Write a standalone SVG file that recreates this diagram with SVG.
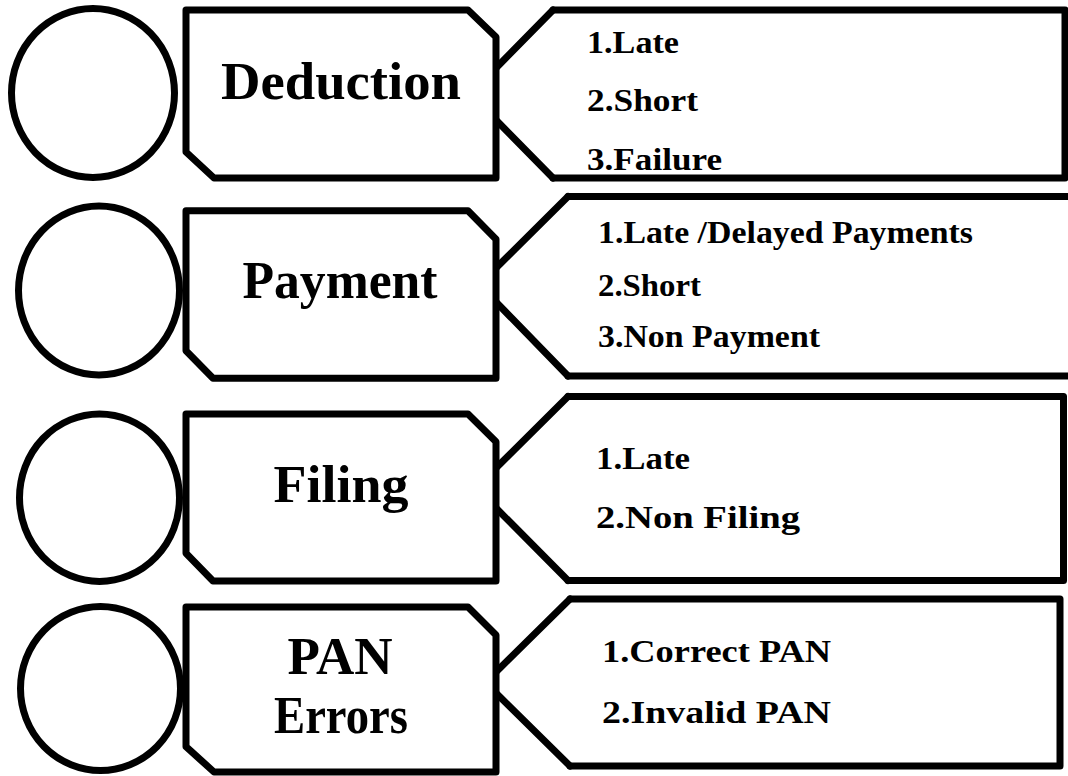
<svg xmlns="http://www.w3.org/2000/svg" width="1068" height="776" viewBox="0 0 1068 776">
<style>
.sh{fill:#fff;stroke:#000;stroke-width:7;stroke-linejoin:round;stroke-linecap:round}
.cn{fill:none;stroke:#000;stroke-width:7;stroke-linecap:round}
.lb{font-family:"Liberation Serif","Times New Roman",serif;font-weight:bold;font-size:52px;fill:#000;text-anchor:middle}
.it{font-family:"Liberation Serif","Times New Roman",serif;font-weight:bold;font-size:32.5px;fill:#000}
</style>
<rect width="1068" height="776" fill="#fff"/>
<g id="row1-items"><path class="sh" d="M553,10 H1065 V178 H553"/>
<text class="it" x="587" y="53" textLength="92" lengthAdjust="spacingAndGlyphs">1.Late</text>
<text class="it" x="587" y="111" textLength="111" lengthAdjust="spacingAndGlyphs">2.Short</text>
<text class="it" x="587" y="170" textLength="135" lengthAdjust="spacingAndGlyphs">3.Failure</text></g>
<g id="row2-items"><path class="sh" d="M568,196.5 H1075 V376 H568"/>
<text class="it" x="598" y="243" textLength="375" lengthAdjust="spacingAndGlyphs">1.Late /Delayed Payments</text>
<text class="it" x="598" y="296" textLength="103" lengthAdjust="spacingAndGlyphs">2.Short</text>
<text class="it" x="598" y="347" textLength="222" lengthAdjust="spacingAndGlyphs">3.Non Payment</text></g>
<g id="row3-items"><path class="sh" d="M568,396.5 H1063.5 V580.5 H568"/>
<text class="it" x="596" y="469" textLength="94" lengthAdjust="spacingAndGlyphs">1.Late</text>
<text class="it" x="596" y="528" textLength="204" lengthAdjust="spacingAndGlyphs">2.Non Filing</text></g>
<g id="row4-items"><path class="sh" d="M570,599 H1060 V766 H570"/>
<text class="it" x="602" y="662" textLength="229" lengthAdjust="spacingAndGlyphs">1.Correct PAN</text>
<text class="it" x="602" y="723" textLength="229" lengthAdjust="spacingAndGlyphs">2.Invalid PAN</text></g>
<g id="connectors">
<path class="cn" d="M496,68 L553,10 M496,120 L553,178"/>
<path class="cn" d="M496,268 L568,196.5 M496,302 L568,376"/>
<path class="cn" d="M496,468 L568,396.5 M496,508 L568,580.5"/>
<path class="cn" d="M496,672 L570,599 M496,693 L570,766"/>
</g>
<g id="circle1"><ellipse class="sh" cx="93" cy="93" rx="81.5" ry="84.5"/></g>
<g id="circle2"><ellipse class="sh" cx="99" cy="290.5" rx="80.5" ry="84.5"/></g>
<g id="circle3"><ellipse class="sh" cx="99.5" cy="497.7" rx="80" ry="83.7"/></g>
<g id="circle4"><ellipse class="sh" cx="100.5" cy="688.5" rx="80" ry="82"/></g>
<g id="deduction"><polygon class="sh" points="186,10 468,10 496,37 496,178 214,178 186,152"/>
<text class="lb" x="341" y="99" textLength="240" lengthAdjust="spacingAndGlyphs">Deduction</text></g>
<g id="payment"><polygon class="sh" points="186,210.7 468,210.7 496,239.3 496,378.3 213,378.3 186,350.7"/>
<text class="lb" x="340" y="298" textLength="195" lengthAdjust="spacingAndGlyphs">Payment</text></g>
<g id="filing"><polygon class="sh" points="186,414 468,414 496,441.7 496,581 213,581 186,553.3"/>
<text class="lb" x="341" y="501.7" textLength="135" lengthAdjust="spacingAndGlyphs">Filing</text></g>
<g id="pan-errors"><polygon class="sh" points="186,607 468,607 496,635 496,772 214,772 186,746.7"/>
<text class="lb" x="340" y="674" textLength="105" lengthAdjust="spacingAndGlyphs">PAN</text>
<text class="lb" x="341" y="733" textLength="134" lengthAdjust="spacingAndGlyphs">Errors</text></g>
</svg>
